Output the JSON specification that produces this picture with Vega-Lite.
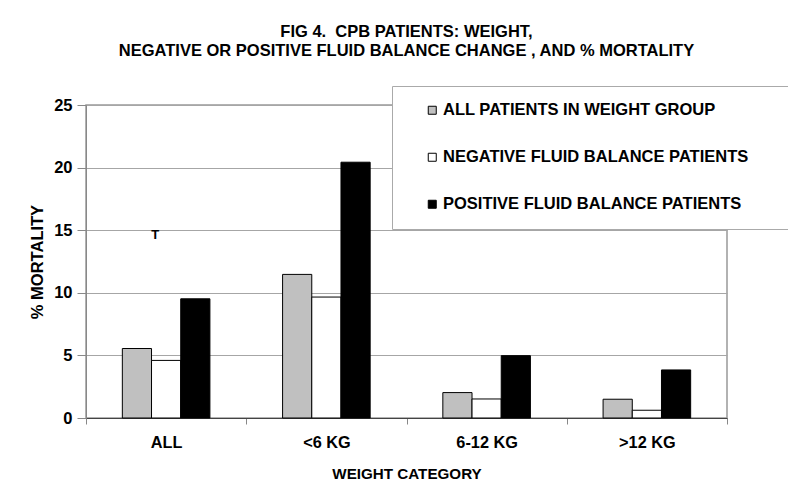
{
  "$schema": "https://vega.github.io/schema/vega-lite/v6.json",
  "width": 641,
  "height": 313,
  "autosize": {"type": "none"},
  "padding": {"left": 86, "top": 105, "right": 61, "bottom": 76},
  "background": "white",
  "config": {
    "font": "Liberation Sans",
    "view": {"stroke": "#999", "strokeWidth": 1.5}
  },
  "title": {
    "text": ["FIG 4.\u00a0 CPB PATIENTS: WEIGHT,", "NEGATIVE OR POSITIVE FLUID BALANCE CHANGE , AND % MORTALITY"],
    "anchor": "middle",
    "frame": "group",
    "font": "Liberation Sans",
    "fontSize": 16.5,
    "fontWeight": "bold",
    "color": "black",
    "lineHeight": 19,
    "offset": 26
  },
  "data": {
    "values": [
      {"category": "ALL", "series": "ALL PATIENTS IN WEIGHT GROUP", "value": 5.55},
      {"category": "ALL", "series": "NEGATIVE FLUID BALANCE PATIENTS", "value": 4.6},
      {"category": "ALL", "series": "POSITIVE FLUID BALANCE PATIENTS", "value": 9.52},
      {"category": "<6 KG", "series": "ALL PATIENTS IN WEIGHT GROUP", "value": 11.47},
      {"category": "<6 KG", "series": "NEGATIVE FLUID BALANCE PATIENTS", "value": 9.66},
      {"category": "<6 KG", "series": "POSITIVE FLUID BALANCE PATIENTS", "value": 20.43},
      {"category": "6-12 KG", "series": "ALL PATIENTS IN WEIGHT GROUP", "value": 2.03},
      {"category": "6-12 KG", "series": "NEGATIVE FLUID BALANCE PATIENTS", "value": 1.52},
      {"category": "6-12 KG", "series": "POSITIVE FLUID BALANCE PATIENTS", "value": 4.98},
      {"category": ">12 KG", "series": "ALL PATIENTS IN WEIGHT GROUP", "value": 1.5},
      {"category": ">12 KG", "series": "NEGATIVE FLUID BALANCE PATIENTS", "value": 0.62},
      {"category": ">12 KG", "series": "POSITIVE FLUID BALANCE PATIENTS", "value": 3.84}
    ]
  },
  "layer": [
    {
      "mark": {"type": "bar", "stroke": "black", "strokeWidth": 1},
      "encoding": {
        "x": {
          "field": "category",
          "type": "nominal",
          "sort": ["ALL", "<6 KG", "6-12 KG", ">12 KG"],
          "scale": {"paddingInner": 0, "paddingOuter": 0},
          "axis": {
            "title": "WEIGHT CATEGORY",
            "labelAngle": 0,
            "tickBand": "extent",
            "domainColor": "#444",
            "tickColor": "#888",
            "tickSize": 6,
            "labelPadding": 10,
            "labelFont": "Liberation Sans",
            "labelFontSize": 16.3,
            "labelFontWeight": "bold",
            "labelColor": "black",
            "titleFont": "Liberation Sans",
            "titleFontSize": 15.2,
            "titleFontWeight": "bold",
            "titleColor": "black",
            "titlePadding": 16
          }
        },
        "xOffset": {
          "field": "series",
          "scale": {
            "domain": ["_pad1", "ALL PATIENTS IN WEIGHT GROUP", "NEGATIVE FLUID BALANCE PATIENTS", "POSITIVE FLUID BALANCE PATIENTS", "_pad2"],
            "paddingInner": 0,
            "paddingOuter": 0.245
          }
        },
        "y": {
          "field": "value",
          "type": "quantitative",
          "scale": {"domain": [0, 25], "nice": false},
          "axis": {
            "title": "% MORTALITY",
            "values": [0, 5, 10, 15, 20, 25],
            "grid": true,
            "gridColor": "#a6a6a6",
            "domainColor": "#888",
            "tickColor": "#888",
            "tickSize": 9,
            "labelPadding": 5,
            "labelFont": "Liberation Sans",
            "labelFontSize": 16.5,
            "labelFontWeight": "bold",
            "labelColor": "black",
            "titleFont": "Liberation Sans",
            "titleFontSize": 16.5,
            "titleFontWeight": "bold",
            "titleColor": "black",
            "titlePadding": 8
          }
        },
        "color": {
          "field": "series",
          "type": "nominal",
          "scale": {
            "domain": ["ALL PATIENTS IN WEIGHT GROUP", "NEGATIVE FLUID BALANCE PATIENTS", "POSITIVE FLUID BALANCE PATIENTS"],
            "range": ["#c0c0c0", "#ffffff", "#000000"]
          },
          "legend": {
            "orient": "none",
            "legendX": 306,
            "legendY": -19,
            "fillColor": "white",
            "strokeColor": "#aaa",
            "padding": 16,
            "symbolType": "square",
            "symbolSize": 64,
            "symbolStrokeColor": "black",
            "symbolStrokeWidth": 1,
            "symbolOffset": 16,
            "labelOffset": 2.5,
            "labelFont": "Liberation Sans",
            "labelFontSize": 16.5,
            "labelFontWeight": "bold",
            "labelColor": "black",
            "labelLimit": 400,
            "rowPadding": 30,
            "title": " ",
            "titleOrient": "right",
            "titlePadding": 37
          }
        }
      }
    },
    {
      "data": {"values": [{"category": "ALL", "value": 14.6, "label": "T"}]},
      "mark": {"type": "text", "dx": -11, "font": "Liberation Sans", "fontSize": 13, "fontWeight": "bold", "color": "black"},
      "encoding": {
        "x": {"field": "category", "type": "nominal", "sort": ["ALL", "<6 KG", "6-12 KG", ">12 KG"]},
        "y": {"field": "value", "type": "quantitative", "scale": {"domain": [0, 25], "nice": false}},
        "text": {"field": "label"}
      }
    }
  ]
}
